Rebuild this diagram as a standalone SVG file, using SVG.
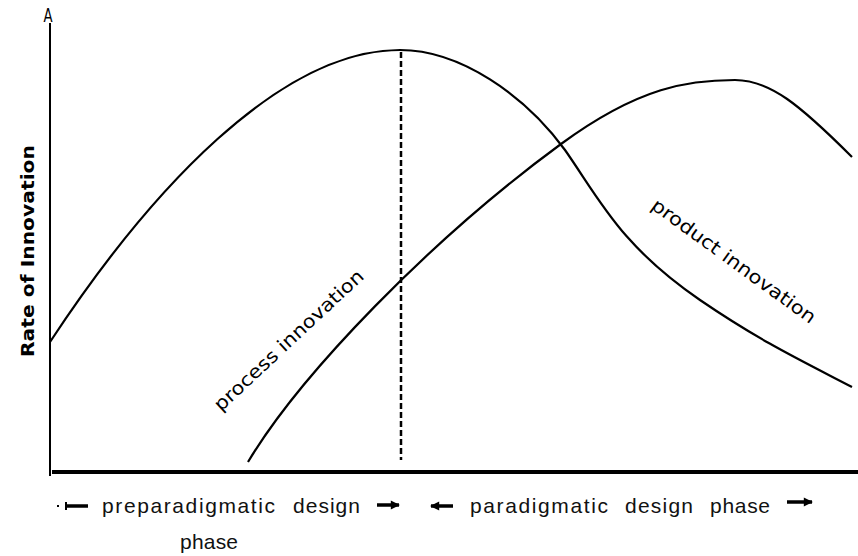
<svg xmlns="http://www.w3.org/2000/svg" width="858" height="556" viewBox="0 0 858 556">
<style>
.curve{fill:none;stroke:#000;stroke-width:2.2}
.lbl{font-family:"DejaVu Sans","Liberation Sans",sans-serif;font-size:18.5px;fill:#000}
.ax{font-family:"Liberation Sans",Arial,sans-serif;font-size:21px;fill:#111}
.arr{stroke:#000;stroke-width:3.5;fill:none}
</style>
<defs>
<marker id="ah" viewBox="0 0 10 10" refX="9" refY="5" markerWidth="3" markerHeight="2.6" orient="auto" markerUnits="strokeWidth">
<path d="M0,0 L10,5 L0,10 Z" fill="#000"/>
</marker>
</defs>
<rect width="858" height="556" fill="#fff"/>
<g id="axes">
<line x1="50" y1="23" x2="50" y2="476" stroke="#000" stroke-width="2"/>
<line x1="52" y1="472" x2="858" y2="472" stroke="#000" stroke-width="4"/>
<text x="0" y="0" font-family="DejaVu Sans, sans-serif" font-size="19" text-anchor="middle" transform="translate(48 22) scale(0.7 1)">A</text>
<text x="0" y="0" transform="translate(34 251) rotate(-90)" font-family="DejaVu Sans, sans-serif" font-weight="bold" font-size="18" text-anchor="middle" textLength="212" lengthAdjust="spacingAndGlyphs">Rate of Innovation</text>
</g>
<g id="connectors">
<path id="curve-process" class="curve" d="M50,342 C150,190 280,50 400,50 C460,50 525,95 565,150 C600,200 620,245 700,300 C760,341 800,360 852,387"/>
<path id="curve-product" class="curve" d="M248,462 C300,375 430,240 561,144 C640,86 690,80 735,80 C770,80 800,105 852,157"/>
<line id="divider" x1="401" y1="52" x2="401" y2="460" stroke="#000" stroke-width="2.5" stroke-dasharray="6,3"/>
</g>
<g id="label-process">
<text class="lbl" transform="translate(221 412) rotate(-43)" textLength="197" lengthAdjust="spacingAndGlyphs">process innovation</text>
</g>
<g id="label-product">
<text class="lbl" transform="translate(650 208) rotate(36)" textLength="198" lengthAdjust="spacingAndGlyphs">product innovation</text>
</g>
<g id="phase-pre">
<rect x="57" y="505" width="2" height="2" fill="#000"/>
<line x1="66" y1="502" x2="66" y2="510" stroke="#000" stroke-width="2"/>
<line class="arr" x1="66" y1="506" x2="88" y2="506"/>
<text class="ax" x="102" y="513" textLength="173">preparadigmatic</text>
<text class="ax" x="293" y="513" textLength="67">design</text>
<text class="ax" x="180" y="549" textLength="58">phase</text>
<line class="arr" x1="377" y1="505" x2="399" y2="505" marker-end="url(#ah)"/>
</g>
<g id="phase-para">
<line class="arr" x1="453" y1="506" x2="431" y2="506" marker-end="url(#ah)"/>
<text class="ax" x="470" y="513" textLength="138">paradigmatic</text>
<text class="ax" x="625" y="513" textLength="68">design</text>
<text class="ax" x="710" y="513" textLength="60">phase</text>
<line class="arr" x1="787" y1="502" x2="812" y2="502" marker-end="url(#ah)"/>
</g>
</svg>
